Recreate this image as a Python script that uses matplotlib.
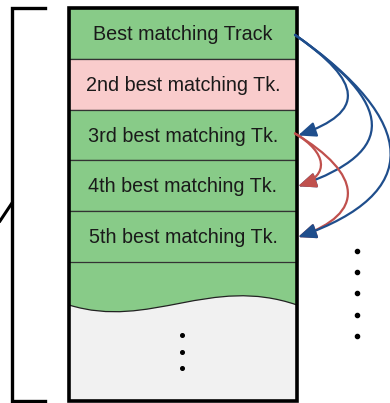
import matplotlib.pyplot as plt
from matplotlib.patches import Rectangle, FancyArrowPatch, PathPatch
from matplotlib.path import Path

# rows of the candidate list, top to bottom
labels = ["Best matching Track", "2nd best matching Tk.", "3rd best matching Tk.",
          "4th best matching Tk.", "5th best matching Tk."]
row_colors = ["#88cb88", "#f9cccc", "#88cb88", "#88cb88", "#88cb88"]
# (from row, to row, colour, reach) in drawing order
links = [(0, 2, "blue", 68), (0, 3, "blue", 100),
         (2, 3, "red", 32), (2, 4, "red", 68),
         (0, 4, "blue", 125)]
n_dots_right = 5
n_dots_inner = 3

GREEN = "#88cb88"
GRAY = "#f1f1f1"
COLORS = {"blue": "#1f4e8c", "red": "#c0504d"}

fig = plt.figure(figsize=(3.9, 4.03), dpi=100)
ax = fig.add_axes([0, 0, 1, 1])
ax.set_xlim(0, 390)
ax.set_ylim(403, 0)
ax.axis("off")

x0, x1 = 69, 297
top, bottom = 8, 401
row_h = 50.8

# green filler under the rows, gray with a wavy edge below
ax.add_patch(Rectangle((x0, top), x1 - x0, bottom - top, fc=GREEN, ec="none"))
wave = [(x0, 305), (150, 330), (210, 275), (x1, 305)]
verts = wave + [(x1, bottom), (x0, bottom), (x0, 305)]
codes = [Path.MOVETO, Path.CURVE4, Path.CURVE4, Path.CURVE4,
         Path.LINETO, Path.LINETO, Path.CLOSEPOLY]
ax.add_patch(PathPatch(Path(verts, codes), fc=GRAY, ec="none"))
ax.add_patch(PathPatch(Path(wave, codes[:4]), fc="none", ec="#222222", lw=0.9))

for i, (lab, col) in enumerate(zip(labels, row_colors)):
    y = top + i * row_h
    ax.add_patch(Rectangle((x0, y), x1 - x0, row_h, fc=col, ec="#333333", lw=0.9))
    ax.text(183, y + row_h / 2 + 1, lab, ha="center", va="center",
            fontsize=14.2, family="Liberation Sans", color="#1a1a1a")

# thick outer border
ax.add_patch(Rectangle((x0, top), x1 - x0, bottom - top, fc="none", ec="black", lw=2.6))

# dots
ax.plot([182] * n_dots_inner, [335 + 16.5 * k for k in range(n_dots_inner)],
        "o", color="black", ms=2.6)
ax.plot([357] * n_dots_right, [251 + 21.2 * k for k in range(n_dots_right)],
        "o", color="black", ms=3.0)

# left bracket
ax.plot([45, 12, 12, 45], [top, top, bottom, bottom], color="black", lw=2.4,
        solid_joinstyle="miter")
ax.plot([12, 0], [203, 221], color="black", lw=2.2)

# start / arrival directions of the curves
out_dir = {"blue": (1.0, 0.7), "red": (1.0, 0.6)}
in_dir = (1.0, -0.35)

for a, b, c, reach in links:
    ya = top + a * row_h + row_h / 2
    yb = top + b * row_h + row_h / 2
    p0 = (295, ya + (1.5 if a == 0 else -1.5))
    p3 = (298, yb + 0.5)
    dx, dy = out_dir[c]
    p1 = (p0[0] + reach * dx, p0[1] + reach * dy)
    p2 = (p3[0] + reach * in_dir[0], p3[1] + reach * in_dir[1])
    path = Path([p0, p1, p2, p3], [Path.MOVETO, Path.CURVE4, Path.CURVE4, Path.CURVE4])
    arr = FancyArrowPatch(path=path,
                          arrowstyle="-|>,head_length=0.72,head_width=0.3",
                          mutation_scale=15, color=COLORS[c], lw=1.6,
                          shrinkA=0, shrinkB=0)
    ax.add_patch(arr)

fig.savefig("out.png", dpi=100)
